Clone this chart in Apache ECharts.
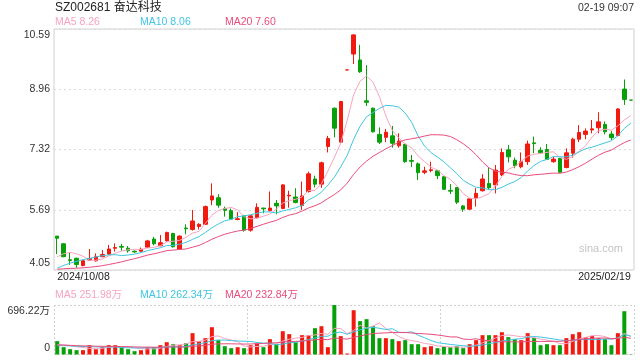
<!DOCTYPE html>
<html>
<head>
<meta charset="utf-8">
<script src="https://cdn.jsdelivr.net/npm/echarts@6.0.0/dist/echarts.min.js"></script>
<style>
html,body{margin:0;padding:0;background:#fff;}
#main{width:640px;height:360px;}
</style>
</head>
<body>
<div id="main"></div>
<script>
// ---- Data ----
const stockName = 'SZ002681 奋达科技';
const timeStamp = '02-19 09:07';
const oct = ['08','09','10','11','14','15','16','17','18','21','22','23','24','25','28','29','30','31'];
const nov = ['01','04','05','06','07','08','11','12','13','14','15','18','19','20','21','22','25','26','27','28','29'];
const dec = ['02','03','04','05','06','09','10','11','12','13','16','17','18','19','20','23','24','25','26','27','30','31'];
const jan = ['02','03','06','07','08','09','10','13','14','15','16','17','20','21','22','23','24','27'];
const feb = ['05','06','07','10','11','12','13','14','17','18','19'];
const dates = [].concat(
  oct.map(d => '2024/10/' + d), nov.map(d => '2024/11/' + d), dec.map(d => '2024/12/' + d),
  jan.map(d => '2025/01/' + d), feb.map(d => '2025/02/' + d));

// closes before the window (for moving averages)
const prevCloses = [4.15,4.12,4.10,4.08,4.05,4.02,4.00,3.98,3.96,3.94,3.66,3.70,3.72,3.82,4.05,4.00,4.13,4.40,4.61];
const prevVolumes = [150,160,140,135,145,150,140,145,140,145,110,105,100,115,130,120,125,130,127];

const opens = [4.97,4.76,4.33,4.37,4.17,4.32,4.30,4.41,4.48,4.64,
4.69,4.64,4.56,4.56,4.67,4.89,4.71,4.84,5.04,4.62,
5.19,5.15,5.23,5.29,5.95,6.01,5.72,5.66,5.42,5.52,
5.13,5.47,5.73,5.66,5.86,5.72,6.06,6.03,5.80,6.18,
6.52,6.38,7.40,8.44,7.52,9.48,9.91,9.75,8.64,8.44,
7.73,7.65,7.69,7.42,7.46,7.02,6.93,6.70,6.75,6.74,
6.58,6.21,6.29,5.79,5.70,6.01,6.20,6.40,6.36,6.63,
7.31,7.03,6.85,6.99,7.50,7.30,7.32,6.99,7.08,6.83,
7.22,7.60,7.73,7.85,7.91,8.00,7.74,7.70,8.96,8.66];
const closes = [4.91,4.41,4.31,4.20,4.30,4.36,4.41,4.47,4.62,4.66,
4.67,4.57,4.54,4.61,4.84,4.76,4.79,5.07,4.68,4.97,
5.17,5.38,5.29,5.77,6.06,5.81,5.67,5.43,5.44,5.13,
5.52,5.75,5.71,5.73,5.79,6.36,6.08,5.88,6.06,6.66,
6.38,6.96,7.62,7.90,8.62,9.48,10.43,9.43,8.60,7.80,
7.52,7.79,7.49,7.55,6.99,7.00,6.69,6.74,6.77,6.61,
6.24,6.19,5.89,5.70,5.98,6.13,6.52,6.28,6.76,7.24,
7.12,6.88,6.99,7.47,7.48,7.23,7.05,7.06,6.70,7.23,
7.60,7.78,7.82,7.88,8.07,7.80,7.64,8.42,8.68,8.66];
const lows = [4.48,4.40,4.19,4.11,4.15,4.30,4.28,4.40,4.46,4.55,
4.57,4.52,4.52,4.55,4.65,4.72,4.69,4.82,4.66,4.60,
5.02,5.12,5.15,5.27,5.81,5.74,5.50,5.41,5.40,5.09,
5.09,5.45,5.59,5.64,5.56,5.70,5.74,5.86,5.68,6.15,
6.29,6.28,7.24,7.65,7.50,9.48,9.64,9.40,8.50,7.78,
7.47,7.52,7.37,7.37,6.96,6.85,6.49,6.65,6.70,6.52,
6.22,6.11,5.84,5.63,5.68,5.77,6.18,6.22,6.13,6.60,
6.97,6.81,6.81,6.90,7.22,7.20,7.04,6.96,6.69,6.81,
7.10,7.52,7.60,7.76,7.76,7.73,7.58,7.68,8.53,8.66];
const highs = [4.97,4.78,4.53,4.38,4.32,4.62,4.50,4.59,4.73,4.77,
4.76,4.70,4.58,4.66,4.87,4.95,5.00,5.09,5.06,4.99,
5.29,5.68,5.32,5.80,6.40,6.11,5.77,5.72,5.62,5.54,
5.54,5.86,5.74,6.18,5.95,6.38,6.20,6.27,6.45,6.72,
6.61,6.99,7.69,8.46,8.64,9.48,10.45,10.16,9.61,8.46,
7.92,7.88,7.96,7.76,7.48,7.17,6.97,6.85,6.99,6.76,
6.60,6.38,6.30,5.81,6.00,6.27,6.65,6.83,6.90,7.35,
7.44,7.10,7.24,7.56,7.67,7.38,7.47,7.12,7.09,7.35,
7.64,7.98,7.89,8.12,8.33,8.08,7.82,8.44,9.22,8.66];
// volume in 万
const volumes = [188,103,75,61,61,131,75,103,131,131,
103,75,47,61,103,103,131,173,145,131,
159,300,188,230,384,202,117,89,103,89,
131,155,103,216,145,328,286,173,272,272,
370,398,103,696.22,258,14,623,469,497,398,
230,230,216,188,202,145,145,103,117,89,
110,103,117,89,145,202,272,272,272,314,
244,216,202,300,230,131,145,131,131,230,
286,314,244,258,230,216,131,300,609,4];

const priceTicks = ['4.05','5.69','7.32','8.96','10.59'];
const volTicks = ['0','696.22万'];
const maLegend = ['MA5 8.26','MA10 8.06','MA20 7.60'];
const volMaLegend = ['MA5 251.98万','MA10 262.34万','MA20 232.84万'];
const maPeriods = [5,10,20];

// ---- Styles ----
const UP = '#f2190f', DOWN = '#08a008';
const MA_COLORS = ['#f7a4c0', '#3fc6e2', '#e94c7c'];
const FONT = '"Liberation Sans", Arial, "Noto Sans CJK SC", sans-serif';

function movingAvg(prev, vals, n) {
  const all = prev.concat(vals);
  const off = prev.length;
  return vals.map((_, i) => {
    let s = 0;
    for (let k = off + i - n + 1; k <= off + i; k++) s += all[k];
    return +(s / n).toFixed(3);
  });
}

const candleData = opens.map((o, i) => [o, closes[i], lows[i], highs[i]]);
const signs = opens.map((o, i) => {
  const c = closes[i];
  if (c > o) return 1;
  if (c < o) return -1;
  return i > 0 && c < closes[i - 1] ? -1 : 1;
});
const volData = volumes.map((v, i) => ({ value: v, itemStyle: { color: signs[i] > 0 ? UP : DOWN } }));

const txt = (size, color) => ({ fontSize: size, fontWeight: 'normal', color: color, fontFamily: FONT });

const titles = [
  { text: stockName, left: 55, top: 2, padding: 0, textStyle: txt(12, '#222') },
  { text: timeStamp, right: 6, top: 3, padding: 0, textStyle: txt(10.5, '#333') }
];
const legendX = [55, 140, 225];
maLegend.forEach((t, k) => titles.push({ text: t, left: legendX[k], top: 16.5, padding: 0, textStyle: txt(10.5, MA_COLORS[k]) }));
volMaLegend.forEach((t, k) => titles.push({ text: t, left: legendX[k], top: 289.5, padding: 0, textStyle: txt(10.5, MA_COLORS[k]) }));

const series = [{
  type: 'candlestick', xAxisIndex: 0, yAxisIndex: 0, data: candleData, barWidth: 4,
  itemStyle: { color: UP, color0: DOWN, borderColor: UP, borderColor0: DOWN, borderWidth: 1 }
}];
maPeriods.forEach((n, k) => series.push({
  type: 'line', xAxisIndex: 0, yAxisIndex: 0, data: movingAvg(prevCloses, closes, n),
  showSymbol: false, symbol: 'none', lineStyle: { width: 1, color: MA_COLORS[k] }, z: 3
}));
series.push({ type: 'bar', xAxisIndex: 1, yAxisIndex: 1, data: volData, barWidth: 4 });
maPeriods.forEach((n, k) => series.push({
  type: 'line', xAxisIndex: 1, yAxisIndex: 1, data: movingAvg(prevVolumes, volumes, n),
  showSymbol: false, symbol: 'none', lineStyle: { width: 1, color: MA_COLORS[k] }, z: 3
}));

const option = {
  animation: false,
  backgroundColor: '#fff',
  title: titles,
  grid: [
    { left: 54, right: 6, top: 29, height: 241, show: true, borderColor: '#d0d0d0', borderWidth: 1, backgroundColor: 'transparent' },
    { left: 54, right: 6, top: 305, height: 49.5 }
  ],
  xAxis: [{
    gridIndex: 0, type: 'category', data: dates, boundaryGap: true,
    axisLine: { show: false }, axisTick: { show: false }, splitLine: { show: false },
    axisLabel: {
      interval: (i) => i === 0 || i === dates.length - 1, margin: 2,
      fontSize: 10.5, color: '#222', fontFamily: FONT,
      alignMinLabel: 'left', alignMaxLabel: 'right', showMinLabel: true, showMaxLabel: true
    }
  }, {
    gridIndex: 1, type: 'category', data: dates, boundaryGap: true,
    axisLine: { show: false }, axisTick: { show: false }, axisLabel: { show: false },
    splitLine: { show: true, interval: (i) => i % 30 === 0, lineStyle: { color: '#d0d0d0', type: [2, 2], width: 1 } }
  }],
  yAxis: [{
    gridIndex: 0, type: 'value', min: 4.05, max: 10.59, interval: 1.635,
    axisLine: { show: false }, axisTick: { show: false },
    splitLine: { show: true, lineStyle: { color: '#dcdcdc', type: [2, 3], width: 1 } },
    axisLabel: {
      margin: 4, color: '#333', fontSize: 10.5, fontFamily: FONT,
      formatter: (v, i) => i === 0 ? '{b|' + priceTicks[i] + '}' : (i === priceTicks.length - 1 ? '{t|' + priceTicks[i] + '}' : priceTicks[i]),
      rich: {
        t: { padding: [12, 0, 0, 0], fontSize: 10.5, color: '#333', fontFamily: FONT },
        b: { padding: [0, 0, 14, 0], fontSize: 10.5, color: '#333', fontFamily: FONT }
      }
    }
  }, {
    gridIndex: 1, type: 'value', min: 0, max: 696.22, interval: 696.22,
    axisLine: { show: false }, axisTick: { show: false },
    splitLine: { show: true, lineStyle: { color: '#d0d0d0', type: [2, 2], width: 1 } },
    axisLabel: {
      margin: 4, color: '#333', fontSize: 10.5, fontFamily: FONT,
      formatter: (v, i) => i === 0 ? '{b|' + volTicks[0] + '}' : '{t|' + volTicks[1] + '}',
      rich: {
        t: { padding: [13, 0, 0, 0], fontSize: 10.5, color: '#333', fontFamily: FONT },
        b: { padding: [0, 0, 13, 0], fontSize: 10.5, color: '#333', fontFamily: FONT }
      }
    }
  }],
  graphic: [{
    type: 'text', right: 17, top: 243,
    style: { text: 'sina.com', fill: '#c4c4c4', font: '11px "Liberation Sans", Arial, sans-serif' }
  }],
  series: series
};

const chart = echarts.init(document.getElementById('main'), null, { renderer: 'canvas' });
chart.setOption(option);
</script>
</body>
</html>
